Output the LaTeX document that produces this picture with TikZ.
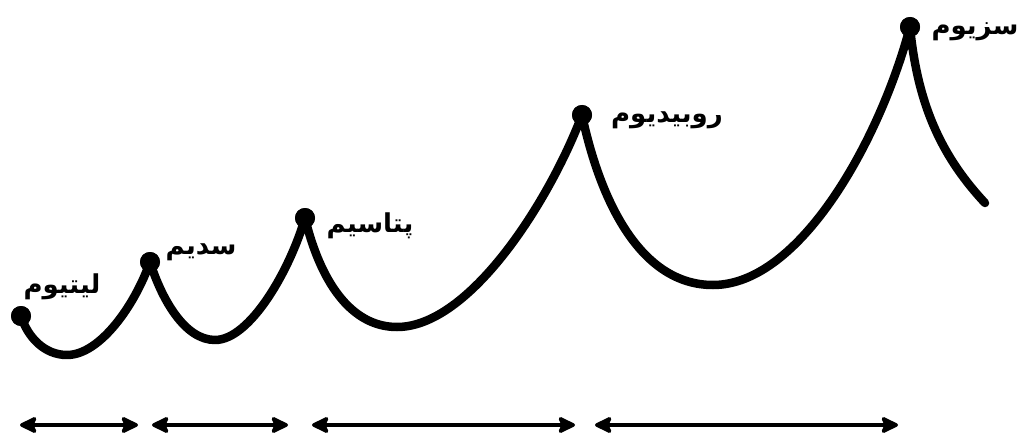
\documentclass[tikz,border=0pt]{standalone}
\usepackage{fontspec}
\newfontfamily\arabicfont[Script=Arabic]{DejaVu Sans}
\TeXXeTstate=1
\usetikzlibrary{arrows.meta}
\tikzset{
  dot/.style={circle,fill=black,inner sep=0pt,minimum size=20pt},
  curve/.style={line width=8.5pt,line join=round,line cap=round},
  lbl/.style={font=\arabicfont\bfseries\fontsize{26}{30}\selectfont,inner sep=0pt},
  headtip/.style={line width=3.5pt},
  spanarrow/.style={line width=3.5pt,
    arrows={Stealth[length=20pt,width=19pt,inset=4pt,round]-Stealth[length=20pt,width=19pt,inset=4pt,round]}}
}
\begin{document}
\begin{tikzpicture}[x=1pt,y=-1pt]
\useasboundingbox (0,0) rectangle (1021,436);
% peaks
\node[dot] (li) at (21,316) {};
\node[dot] (na) at (150,262) {};
\node[dot] (k) at (305,218) {};
\node[dot] (rb) at (582,115) {};
\node[dot] (cs) at (910,27) {};
\coordinate (end) at (985,203);
% curve
\draw[curve] (li.center) .. controls (28,338) and (45,355) .. (67,355)
  .. controls (100,355) and (135,305) .. (na.center)
  .. controls (162,300) and (185,340) .. (215,340)
  .. controls (250,340) and (290,270) .. (k.center)
  .. controls (320,280) and (350,327) .. (397,327)
  .. controls (470,327) and (550,200) .. (rb.center)
  .. controls (600,200) and (640,285) .. (713,285)
  .. controls (800,285) and (880,140) .. (cs.center)
  .. controls (918,110) and (945,160) .. (end);
\foreach \n in {li,na,k,rb,cs} \node[dot] at (\n) {};
% labels
\node[lbl] (tli) at (62,287) {\beginR لیتیوم\endR};
\node[lbl] (tna) at (201,252) {\beginR سدیم\endR};
\node[lbl] (tk) at (370,226) {\beginR پتاسیم\endR};
\node[lbl] (trb) at (667,120) {\beginR روبیدیوم\endR};
\node[lbl] (tcs) at (975,32) {\beginR سزیوم\endR};
% arrows
\coordinate (a1) at (20,425); \coordinate (b1) at (138,425);
\coordinate (a2) at (152,425); \coordinate (b2) at (288,425);
\coordinate (a3) at (312,425); \coordinate (b3) at (575,425);
\coordinate (a4) at (595,425); \coordinate (b4) at (898,425);
\draw[spanarrow] (a1) -- (b1);
\draw[spanarrow] (a2) -- (b2);
\draw[spanarrow] (a3) -- (b3);
\draw[spanarrow] (a4) -- (b4);
\end{tikzpicture}
\end{document}
